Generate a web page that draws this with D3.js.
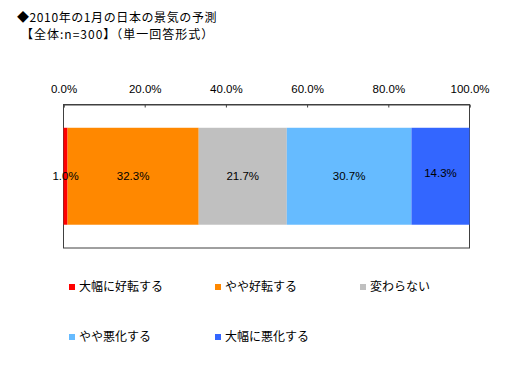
<!DOCTYPE html>
<html><head><meta charset="utf-8">
<script src="https://cdn.jsdelivr.net/npm/d3@7"></script>
<style>
html,body{margin:0;padding:0;background:#fff;}
svg{display:block;}
</style></head>
<body>
<script>
const categories = ["大幅に好転する","やや好転する","変わらない","やや悪化する","大幅に悪化する"];
const values = [1.0, 32.3, 21.7, 30.7, 14.3];
const colors = ["#FF0000","#FF8800","#C0C0C0","#66BBFF","#3366FF"];
const tickValues = [0,20,40,60,80,100];
const titleLines = ["◆2010年の1月の日本の景気の予測","【全体:n=300】（単一回答形式）"];

(function(){
const W = 524, H = 376;
const svg = d3.select("body").append("svg").attr("width", W).attr("height", H);
const jp = "'Noto Sans CJK JP', sans-serif";
const lat = "'Liberation Sans', Arial, sans-serif";

svg.append("text").attr("x", 17).attr("y", 18).attr("dy", "0.36em").attr("font-family", jp).attr("font-size", 12)
  .attr("letter-spacing", 0.6).attr("fill", "#000").text(titleLines[0]);
svg.append("text").attr("x", 21).attr("y", 35).attr("dy", "0.36em").attr("font-family", jp).attr("font-size", 12)
  .attr("letter-spacing", 1).attr("fill", "#000").text(titleLines[1]);

const pL = 63.5, pR = 469.5, pT = 104.5, pB = 248;
const x = d3.scaleLinear().domain([0,100]).range([pL, pR]);
const y = d3.scaleBand().domain(["all"]).range([pT, pB]).paddingInner(0).paddingOuter(0.24);

svg.append("rect").attr("x", pL).attr("y", pT).attr("width", pR-pL).attr("height", pB-pT)
  .attr("fill", "none").attr("stroke", "#404040").attr("stroke-width", 1);

const axis = d3.axisTop(x).tickValues(tickValues).tickSize(-3).tickPadding(12)
  .tickFormat(d => d.toFixed(1) + "%");
const ag = svg.append("g").attr("transform", `translate(0,${pT})`).call(axis);
ag.select(".domain").attr("stroke", "#404040");
ag.selectAll(".tick line").attr("stroke", "#404040");
ag.selectAll(".tick text").attr("font-family", lat).attr("font-size", 11.5).attr("fill", "#000");

let cum = 0;
const segs = values.map((v, i) => { const s = {v, i, x0: cum, x1: cum + v}; cum += v; return s; });
svg.append("g").selectAll("rect").data(segs).join("rect")
  .attr("x", d => x(d.x0)).attr("width", d => x(Math.min(d.x1,100)) - x(d.x0))
  .attr("y", y("all")).attr("height", y.bandwidth())
  .attr("fill", d => colors[d.i]);

svg.append("g").selectAll("text").data(segs).join("text")
  .attr("x", d => (x(d.x0) + x(Math.min(d.x1,100))) / 2)
  .attr("y", d => y("all") + y.bandwidth()/2 + (d.i === 4 ? -3 : 0))
  .attr("dy", "0.35em").attr("text-anchor", "middle")
  .attr("font-family", lat).attr("font-size", 11.5).attr("fill", "#000")
  .text(d => d.v.toFixed(1) + "%");

const legPos = [[69,287],[215,287],[360,287],[69,337],[215,337]];
const lg = svg.append("g").selectAll("g").data(categories).join("g")
  .attr("transform", (d,i) => `translate(${legPos[i][0]},${legPos[i][1]})`);
lg.append("rect").attr("x", 0).attr("y", -3).attr("width", 6).attr("height", 6)
  .attr("fill", (d,i) => colors[i]);
lg.append("text").attr("x", 10).attr("y", 0).attr("dy", "0.36em")
  .attr("font-family", jp).attr("font-size", 12).attr("fill", "#000").text(d => d);
})();
</script>
</body></html>
